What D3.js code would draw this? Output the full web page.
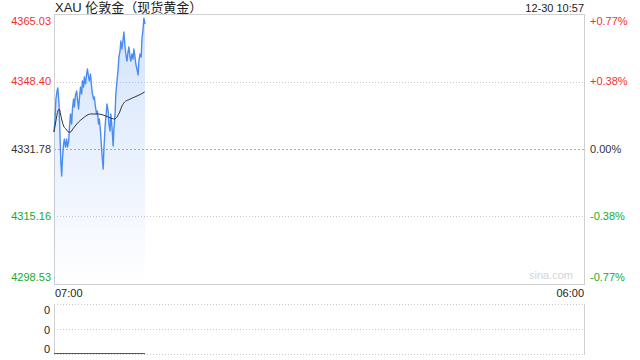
<!DOCTYPE html>
<html>
<head>
<meta charset="utf-8">
<script src="https://cdn.jsdelivr.net/npm/d3@7"></script>
<style>
  body { margin: 0; background: #fff; }
  svg { display: block; font-family: "Liberation Sans", Arial, "Noto Sans CJK SC", sans-serif; }
</style>
</head>
<body>
<div id="chart"></div>
<script>
// minutes after 07:00, and the price at that minute
const priceMinutes = [0, 3, 5, 8, 10, 13, 16, 18, 20, 22, 25, 27, 30, 33, 35, 38, 40, 43, 46, 48,
  51, 53, 56, 59, 61, 64, 66, 69, 72, 74, 77, 79, 82, 85, 87, 90, 92, 95, 98, 100,
  103, 105, 108, 111, 113, 116, 118, 121, 124, 126, 128, 130, 133, 135, 138, 141, 143, 146, 148, 151,
  154, 156, 159, 161, 164, 167, 169, 172, 174, 177, 180, 182, 185, 187, 190, 193, 195, 198, 200, 203,
  206, 208, 211, 213, 216, 219, 221, 224, 227, 229, 232, 234, 237];
const priceValues = [4335.97, 4339.66, 4344.10, 4346.07, 4346.80, 4342.86, 4334.24, 4328.09, 4325.13, 4329.32,
  4333.01, 4334.24, 4332.27, 4334.24, 4332.27, 4333.50, 4336.71, 4340.40, 4337.94, 4341.63,
  4344.10, 4342.12, 4345.08, 4346.07, 4344.10, 4341.63, 4344.10, 4347.05, 4345.33, 4348.53,
  4347.05, 4349.51, 4347.79, 4350.25, 4351.48, 4349.51, 4348.53, 4350.25, 4347.05, 4345.33,
  4344.10, 4344.59, 4342.12, 4340.40, 4341.14, 4337.94, 4339.17, 4336.21, 4331.78, 4329.32,
  4326.85, 4331.78, 4337.20, 4339.66, 4342.86, 4341.14, 4337.94, 4336.21, 4340.40, 4337.20,
  4332.52, 4336.71, 4340.40, 4345.33, 4348.53, 4351.48, 4354.44, 4355.92, 4358.38, 4356.41,
  4358.87, 4360.60, 4356.90, 4355.18, 4353.45, 4355.92, 4356.90, 4354.44, 4353.45, 4355.18,
  4353.95, 4356.41, 4354.44, 4352.72, 4351.48, 4350.01, 4353.45, 4355.18, 4354.44, 4358.87,
  4361.34, 4364.00, 4362.57];

// average price line
const avgMinutes = [0, 5, 10, 14, 17, 21, 25, 31, 36, 42, 49, 55, 64, 73, 83, 95, 104, 116, 128, 141,
  151, 158, 164, 171, 177, 184, 193, 201, 210, 219, 227, 236];
const avgValues = [4335.97, 4338.68, 4341.14, 4341.63, 4340.40, 4338.68, 4337.44, 4336.71, 4336.09, 4335.89,
  4336.71, 4337.44, 4338.43, 4339.17, 4339.91, 4340.40, 4340.40, 4340.40, 4340.15, 4339.66,
  4339.29, 4339.17, 4339.66, 4340.89, 4342.37, 4343.36, 4343.85, 4344.22, 4344.59, 4344.96,
  4345.33, 4345.82];

// volume (all zero)
const volumeMinutes = [0, 237];
const volumeValues = [0, 0];

const priceTicks = [4365.03, 4348.40, 4331.78, 4315.16, 4298.53];
const pctTicks = ["+0.77%", "+0.38%", "0.00%", "-0.38%", "-0.77%"];
const volumeTicks = ["0", "0", "0"];
const timeTicks = ["07:00", "06:00"];
const prevClose = 4331.78;

const title = "XAU 伦敦金（现货黄金）";
const stamp = "12-30 10:57";

const width = 640, height = 360;
const plot = {left: 54, right: 584, top: 14, bottom: 284, volTop: 304, volBottom: 354};

const svg = d3.select("#chart").append("svg")
  .attr("width", width)
  .attr("height", height);

const x = d3.scaleLinear().domain([0, 1380]).range([plot.left, plot.right]);
const y = d3.scaleLinear().domain([priceTicks[4], priceTicks[0]]).range([plot.bottom, plot.top]);
const yVol = d3.scaleLinear().domain([0, 1]).range([plot.volBottom - 1, plot.volTop]);

// gradient for the area under the price
const grad = svg.append("defs").append("linearGradient")
  .attr("id", "areaGrad")
  .attr("gradientUnits", "userSpaceOnUse")
  .attr("x1", 0).attr("y1", plot.top).attr("x2", 0).attr("y2", plot.bottom);
grad.append("stop").attr("offset", "0%").attr("stop-color", "#4f8ff0").attr("stop-opacity", 0.26);
grad.append("stop").attr("offset", "100%").attr("stop-color", "#4f8ff0").attr("stop-opacity", 0.0);

// grid lines
const gridG = svg.append("g");
priceTicks.slice(1, 4).forEach((v, i) => {
  gridG.append("line")
    .attr("x1", plot.left).attr("x2", plot.right)
    .attr("y1", Math.round(y(v)) + 0.5).attr("y2", Math.round(y(v)) + 0.5)
    .attr("stroke", i === 1 ? "#aaa" : "#c8c8c8")
    .attr("stroke-dasharray", i === 1 ? "2,2" : "1,2");
});

// frame
svg.append("rect")
  .attr("x", plot.left + 0.5).attr("y", plot.top + 0.5)
  .attr("width", plot.right - plot.left).attr("height", plot.bottom - plot.top)
  .attr("fill", "none").attr("stroke", "#d0d0d0");

// area + lines
const pts = priceMinutes.map((m, i) => ({m: m, v: priceValues[i]}));
const avgPts = avgMinutes.map((m, i) => ({m: m, v: avgValues[i]}));

svg.append("path")
  .datum(pts)
  .attr("fill", "url(#areaGrad)")
  .attr("d", d3.area().x(d => x(d.m)).y0(plot.bottom).y1(d => y(d.v)));

svg.append("path")
  .datum(pts)
  .attr("fill", "none")
  .attr("stroke", "#4a8cf2")
  .attr("stroke-width", 1.4)
  .attr("stroke-linejoin", "round")
  .attr("d", d3.line().x(d => x(d.m)).y(d => y(d.v)));

svg.append("path")
  .datum(avgPts)
  .attr("fill", "none")
  .attr("stroke", "#333")
  .attr("stroke-width", 1)
  .attr("d", d3.line().curve(d3.curveMonotoneX).x(d => x(d.m)).y(d => y(d.v)));

// left price labels
const colorFor = v => v > prevClose ? "#f23030" : (v < prevClose ? "#1aaa2a" : "#333");
svg.append("g").selectAll("text")
  .data(priceTicks)
  .join("text")
  .attr("x", plot.left - 3)
  .attr("y", (d, i) => y(d) + (i === 0 ? 7 : (i === 4 ? -7 : 0)))
  .attr("dy", "0.35em")
  .attr("text-anchor", "end")
  .attr("font-size", 11)
  .attr("fill", d => colorFor(d))
  .text(d => d.toFixed(2));

// right pct labels
svg.append("g").selectAll("text")
  .data(pctTicks)
  .join("text")
  .attr("x", plot.right + 6)
  .attr("y", (d, i) => y(priceTicks[i]) + (i === 0 ? 7 : (i === 4 ? -7 : 0)))
  .attr("dy", "0.35em")
  .attr("font-size", 11)
  .attr("fill", (d, i) => colorFor(priceTicks[i]))
  .text(d => d);

// title + time stamp
svg.append("text")
  .attr("x", plot.left + 1).attr("y", 7).attr("dy", "0.35em")
  .attr("font-size", 13).attr("fill", "#222")
  .text(title);
svg.append("text")
  .attr("x", plot.right).attr("y", 8).attr("dy", "0.35em")
  .attr("text-anchor", "end")
  .attr("font-size", 11).attr("fill", "#222")
  .text(stamp);

// watermark
svg.append("text")
  .attr("x", plot.right - 11).attr("y", plot.bottom - 5)
  .attr("text-anchor", "end")
  .attr("font-size", 11).attr("fill", "#d4d4d4")
  .text("sina.com");

// time labels
svg.append("text")
  .attr("x", plot.left + 1).attr("y", 293).attr("dy", "0.35em")
  .attr("font-size", 11).attr("fill", "#222")
  .text(timeTicks[0]);
svg.append("text")
  .attr("x", plot.right).attr("y", 293).attr("dy", "0.35em")
  .attr("text-anchor", "end")
  .attr("font-size", 11).attr("fill", "#222")
  .text(timeTicks[1]);

// volume panel
const volRows = [plot.volTop, (plot.volTop + plot.volBottom) / 2, plot.volBottom];
volRows.forEach(r => {
  svg.append("line")
    .attr("x1", plot.left).attr("x2", plot.right)
    .attr("y1", Math.round(r) + 0.5).attr("y2", Math.round(r) + 0.5)
    .attr("stroke", "#c8c8c8").attr("stroke-dasharray", "1,2");
});
[plot.left, plot.right].forEach(c => {
  svg.append("line")
    .attr("x1", c + 0.5).attr("x2", c + 0.5)
    .attr("y1", plot.volTop).attr("y2", plot.volBottom + 1)
    .attr("stroke", "#d0d0d0");
});
svg.append("g").selectAll("text")
  .data(volumeTicks)
  .join("text")
  .attr("x", plot.left - 4)
  .attr("y", (d, i) => [310, 330, 349][i])
  .attr("dy", "0.35em")
  .attr("text-anchor", "end")
  .attr("font-size", 11).attr("fill", "#222")
  .text(d => d);

svg.append("path")
  .datum(volumeMinutes.map((m, i) => ({m: m, v: volumeValues[i]})))
  .attr("fill", "none")
  .attr("stroke", "#555")
  .attr("stroke-width", 1)
  .attr("d", d3.line().x(d => x(d.m)).y(d => yVol(d.v) + 0.5));
</script>
</body>
</html>
